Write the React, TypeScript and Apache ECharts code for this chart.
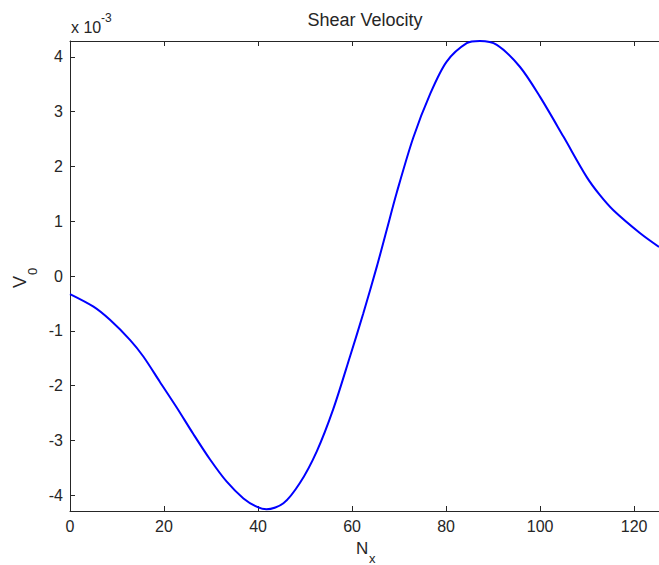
import React, { useEffect, useRef } from "react";
import * as echarts from "echarts";

// N_x positions and shear velocity V_0 (in units of 1e-3)
const nx = [0, 5, 8.5, 12.8, 15.6, 19.1, 22.7, 26.2, 29.8, 33.3, 36.9, 39.7, 41.8, 45.4, 48.9, 52.5, 56.0, 59.6, 62.4, 65.3, 67.4, 69.5, 73.0, 76.6, 80.1, 84.4, 87.2, 90.8, 95.7, 100, 105, 109.9, 112.7, 115.6, 121.3, 125.3];
const v0 = [-0.33, -0.56, -0.8, -1.17, -1.47, -1.93, -2.4, -2.88, -3.35, -3.75, -4.06, -4.21, -4.26, -4.15, -3.78, -3.2, -2.43, -1.46, -0.68, 0.18, 0.85, 1.52, 2.52, 3.32, 3.91, 4.25, 4.29, 4.22, 3.82, 3.27, 2.54, 1.81, 1.48, 1.2, 0.78, 0.53];

const titleText = "Shear Velocity";
const xMin = 0;
const xMax = 125.3;
const xInterval = 20;
const yMin = -4.29;
const yMax = 4.29;

const FONT = "'Liberation Sans', Arial, sans-serif";
const INK = "#262626";

export default function App() {
  const ref = useRef<HTMLDivElement>(null);
  useEffect(() => {
    if (!ref.current) return;
    const chart = echarts.init(ref.current, null, { renderer: "svg" });
    const data = nx.map((x, i) => [x, v0[i]]);
    chart.setOption({
      animation: false,
      backgroundColor: "#ffffff",
      grid: { left: 70, top: 41, width: 589, height: 470, containLabel: false },
      xAxis: [
        {
          type: "value",
          position: "bottom",
          min: xMin,
          max: xMax,
          interval: xInterval,
          axisLine: { show: true, onZero: false, lineStyle: { color: INK, width: 1 } },
          axisTick: { show: true, inside: true, length: 5, lineStyle: { color: INK } },
          axisLabel: {
            show: true,
            margin: 7,
            color: INK,
            fontSize: 16,
            fontFamily: FONT,
            showMaxLabel: false,
            formatter: (v: number) => (Math.abs(v % xInterval) < 1e-9 ? String(v) : ""),
          },
          splitLine: { show: false },
        },
        {
          type: "value",
          position: "top",
          min: xMin,
          max: xMax,
          interval: xInterval,
          axisLine: { show: true, onZero: false, lineStyle: { color: INK, width: 1 } },
          axisTick: { show: true, inside: true, length: 5, lineStyle: { color: INK } },
          axisLabel: { show: false },
          splitLine: { show: false },
        },
      ],
      yAxis: [
        {
          type: "value",
          position: "left",
          min: yMin,
          max: yMax,
          splitNumber: 8,
          axisLine: { show: true, onZero: false, lineStyle: { color: INK, width: 1 } },
          axisTick: { show: true, inside: true, length: 5, lineStyle: { color: INK } },
          axisLabel: {
            show: true,
            margin: 7,
            color: INK,
            fontSize: 16,
            fontFamily: FONT,
            showMinLabel: false,
            showMaxLabel: false,
            formatter: (v: number) => (Math.abs(v - Math.round(v)) < 1e-9 ? String(Math.round(v)) : ""),
          },
          splitLine: { show: false },
        },
      ],
      series: [
        {
          type: "line",
          data,
          smooth: 0.3,
          showSymbol: false,
          symbol: "none",
          lineStyle: { color: "#0000ff", width: 2 },
          clip: true,
        },
      ],
      graphic: [
        {
          type: "text",
          x: 365,
          y: 20,
          style: { text: titleText, font: `18px ${FONT}`, fill: INK, align: "center", verticalAlign: "middle" },
        },
        {
          type: "text",
          x: 71,
          y: 27,
          style: { text: "x 10", font: `16px ${FONT}`, fill: INK, align: "left", verticalAlign: "middle" },
        },
        {
          type: "text",
          x: 101,
          y: 18,
          style: { text: "-3", font: `12px ${FONT}`, fill: INK, align: "left", verticalAlign: "middle" },
        },
        {
          type: "text",
          x: 356,
          y: 548,
          style: { text: "N", font: `17px ${FONT}`, fill: INK, align: "left", verticalAlign: "middle" },
        },
        {
          type: "text",
          x: 369,
          y: 558,
          style: { text: "x", font: `13px ${FONT}`, fill: INK, align: "left", verticalAlign: "middle" },
        },
        {
          type: "group",
          x: 20,
          y: 288,
          rotation: Math.PI / 2,
          children: [
            {
              type: "text",
              x: 0,
              y: 0,
              style: { text: "V", font: `18px ${FONT}`, fill: INK, align: "left", verticalAlign: "middle" },
            },
            {
              type: "text",
              x: 13,
              y: 12,
              style: { text: "0", font: `13px ${FONT}`, fill: INK, align: "left", verticalAlign: "middle" },
            },
          ],
        },
      ],
    });
    return () => chart.dispose();
  }, []);
  return <div ref={ref} style={{ position: "absolute", left: 0, top: 0, width: 659, height: 565 }} />;
}
